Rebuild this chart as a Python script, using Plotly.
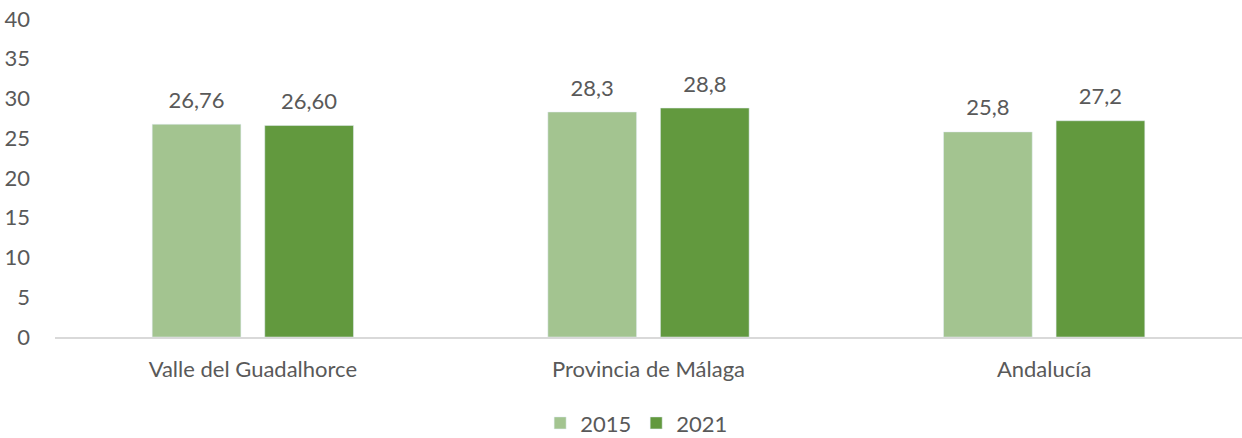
import plotly.graph_objects as go

# Datos
categorias = ["Valle del Guadalhorce", "Provincia de Málaga", "Andalucía"]
valores_2015 = [26.76, 28.3, 25.8]
valores_2021 = [26.60, 28.8, 27.2]
etiquetas_2015 = ["26,76", "28,3", "25,8"]
etiquetas_2021 = ["26,60", "28,8", "27,2"]
ticks_y = [0, 5, 10, 15, 20, 25, 30, 35, 40]

FUENTE = "Lato, 'Source Sans Pro', 'Noto Sans', sans-serif"
GRIS_TEXTO = "#595959"
TAM = 22
HUECO_BARRAS = 0.431

fig = go.Figure()
for nombre, valores, color in [
    ("2015", valores_2015, "#A3C490"),
    ("2021", valores_2021, "#62993E"),
]:
    fig.add_trace(go.Bar(
        name=nombre, x=categorias, y=valores,
        marker=dict(color=color), offsetgroup=nombre,
    ))

# Etiquetas de valor sobre cada barra, separadas del borde superior
for nombre, valores, etiquetas in [
    ("2015", valores_2015, etiquetas_2015),
    ("2021", valores_2021, etiquetas_2021),
]:
    fig.add_trace(go.Scatter(
        x=categorias, y=valores, text=etiquetas, mode="markers+text",
        textposition="top center", offsetgroup=nombre,
        marker=dict(size=16, opacity=0),
        textfont=dict(size=TAM, color=GRIS_TEXTO, family=FUENTE),
        showlegend=False, hoverinfo="skip", cliponaxis=False,
    ))

fig.update_layout(
    width=1242, height=438,
    margin=dict(l=55, r=0, t=19, b=101, autoexpand=False),
    paper_bgcolor="white", plot_bgcolor="white",
    barmode="group", bargap=HUECO_BARRAS, bargroupgap=0.212,
    scattermode="group", scattergap=HUECO_BARRAS,
    font=dict(family=FUENTE, size=TAM, color=GRIS_TEXTO),
    showlegend=True,
    legend=dict(
        orientation="h", x=0.49, xanchor="center",
        yref="container", y=0.034, yanchor="middle",
        font=dict(size=TAM, color=GRIS_TEXTO), itemwidth=30,
    ),
)
fig.update_yaxes(
    range=[0, 40], tickvals=ticks_y, showgrid=False, zeroline=False,
    showline=False, ticks="", ticklabelstandoff=24,
    tickfont=dict(size=TAM, color=GRIS_TEXTO),
)
fig.update_xaxes(
    showline=True, linecolor="#D9D9D9", linewidth=1.5,
    ticks="outside", ticklen=12, tickcolor="rgba(0,0,0,0)",
    tickfont=dict(size=TAM, color=GRIS_TEXTO),
)

fig.write_html("out.html")
